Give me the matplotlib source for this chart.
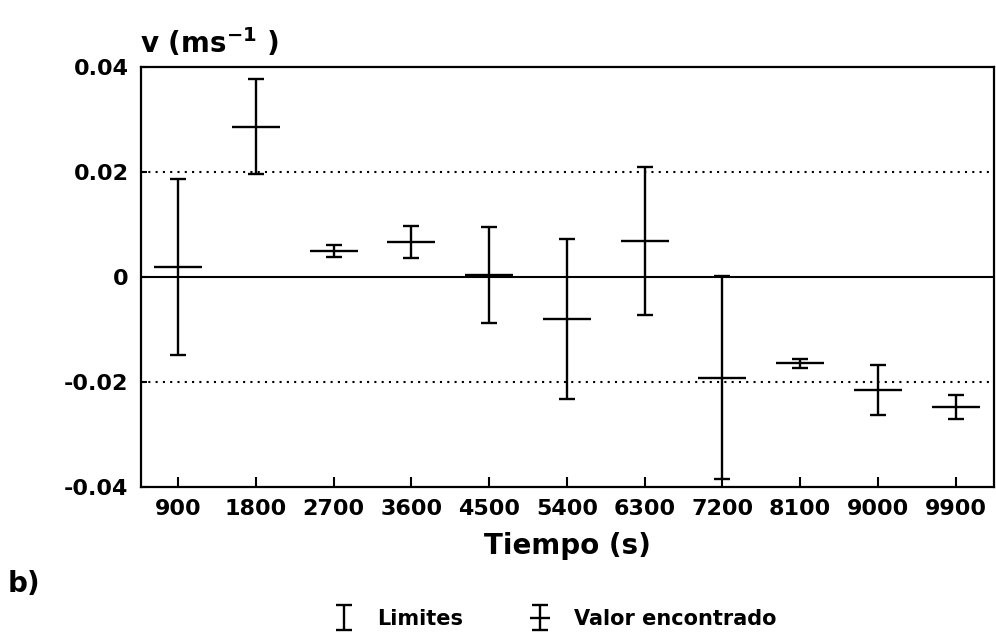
import matplotlib
matplotlib.use("Agg")
import matplotlib.pyplot as plt
from matplotlib.container import ErrorbarContainer
from matplotlib.lines import Line2D
from matplotlib.legend_handler import HandlerErrorbar, HandlerLine2D, HandlerTuple

plt.rcParams['font.family'] = ['DejaVu Sans']
plt.rcParams['font.weight'] = 'bold'
plt.rcParams['mathtext.fontset'] = 'dejavusans'
plt.rcParams['mathtext.default'] = 'bf'

# velocidad media y su incertidumbre en cada intervalo
tiempo = [900, 1800, 2700, 3600, 4500, 5400, 6300, 7200, 8100, 9000, 9900]
v = [0.0018, 0.0286, 0.0049, 0.0066, 0.0003, -0.0081, 0.0068, -0.0192, -0.0165, -0.0216, -0.0248]
err = [0.0168, 0.0091, 0.0011, 0.0031, 0.0091, 0.0152, 0.0140, 0.0193, 0.0008, 0.0048, 0.0023]

yticks = [-0.04, -0.02, 0, 0.02, 0.04]
ytick_labels = ['-0.04', '-0.02', '0', '0.02', '0.04']

fig = plt.figure(figsize=(9.96, 6.38), dpi=100)
ax = fig.add_axes([0.1416, 0.2371, 0.856, 0.6584])

ax.axhline(0, color='k', lw=1.5, zorder=1)
ax.axhline(0.02, color='k', lw=1.5, ls=(0, (1, 2.5)), zorder=1)
ax.axhline(-0.02, color='k', lw=1.5, ls=(0, (1, 2.5)), zorder=1)

barras = ax.errorbar(tiempo, v, yerr=err, fmt='none', ecolor='k',
                     elinewidth=1.7, capsize=5.5, capthick=1.7, zorder=3)
centro, = ax.plot(tiempo, v, ls='none', marker='_', ms=34, mew=1.7,
                  color='k', zorder=3)

ax.set_xlim(470, 10340)
ax.set_ylim(-0.04, 0.04)
ax.set_xticks(tiempo)
ax.set_xticklabels([str(t) for t in tiempo])
ax.set_yticks(yticks)
ax.set_yticklabels(ytick_labels)
ax.tick_params(axis='x', direction='in', length=7, width=1.5, pad=9, labelsize=16)
ax.tick_params(axis='y', direction='in', length=4, width=1.5, pad=9, labelsize=16)
for s in ax.spines.values():
    s.set_linewidth(1.6)

ax.set_xlabel('Tiempo (s)', fontsize=20, fontweight='bold', labelpad=9)
fig.text(0.141, 0.917, r'v (ms$^{-1}$ )', fontsize=20, fontweight='bold',
         ha='left', va='baseline')
fig.text(0.008, 0.072, 'b)', fontsize=20, fontweight='bold',
         ha='left', va='baseline')


def small(h, o):
    # mismo estilo que la linea original pero con marcador mas corto
    h.update_from(o)
    h.set_markersize(15)


leg = fig.legend([barras, (barras, centro)], ['Limites', 'Valor encontrado'],
                 handler_map={ErrorbarContainer: HandlerErrorbar(xerr_size=0.6),
                              Line2D: HandlerLine2D(update_func=small),
                              tuple: HandlerTuple(ndivide=1)},
                 loc='center', bbox_to_anchor=(0.558, 0.03), ncol=2,
                 frameon=False, fontsize=15, handlelength=0.8,
                 handletextpad=1.2, columnspacing=3.3)

fig.savefig('out.png', dpi=100)
